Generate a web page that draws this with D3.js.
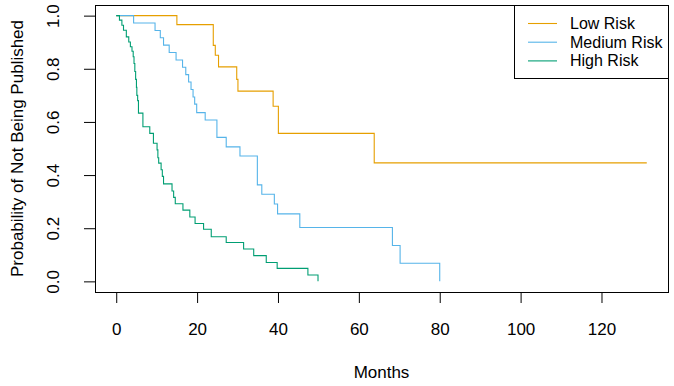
<!DOCTYPE html>
<html>
<head>
<meta charset="utf-8">
<script src="https://cdn.jsdelivr.net/npm/d3@7"></script>
<style>
    body { margin: 0; background: #fff; }
    text { font-family: "Liberation Sans", Arial, sans-serif; fill: #000; }
</style>
</head>
<body>
<div id="chart"></div>
<script>
// Kaplan-Meier curves (time in months, survival after each step)
const lowRiskTime = [0, 15.0, 24.0, 24.5, 25.3, 29.8, 30.1, 38.8, 40.1, 63.8, 131.2]
const lowRiskSurv = [1, 0.966, 0.888, 0.851, 0.807, 0.760, 0.716, 0.659, 0.557, 0.446, 0.446]

const mediumRiskTime = [0, 4.3, 9.6, 10.9, 11.7, 13.1, 14.8, 16.4, 17.2, 17.9, 18.5, 19.0, 19.4, 19.9, 22.0, 24.9, 27.2, 30.6, 34.9, 36.0, 39.1, 39.9, 45.4, 68.3, 70.2, 80.0]
const mediumRiskSurv = [1, 0.972, 0.944, 0.917, 0.889, 0.861, 0.833, 0.806, 0.778, 0.750, 0.722, 0.694, 0.667, 0.635, 0.607, 0.542, 0.506, 0.472, 0.363, 0.328, 0.291, 0.254, 0.203, 0.135, 0.068, 0]

const highRiskTime = [0, 0.8, 1.4, 1.8, 2.5, 3.1, 3.5, 3.9, 4.2, 4.4, 4.6, 4.8, 5.0, 5.1, 5.3, 5.5, 6.6, 8.3, 9.2, 10.1, 10.3, 10.5, 11.1, 11.4, 11.7, 13.8, 14.2, 14.6, 16.5, 18.2, 19.5, 21.6, 23.5, 27.2, 31.5, 34.0, 37.1, 39.8, 47.4, 49.9]
const highRiskSurv = [1, 0.983, 0.964, 0.945, 0.920, 0.901, 0.883, 0.866, 0.845, 0.820, 0.790, 0.760, 0.730, 0.700, 0.680, 0.633, 0.582, 0.557, 0.520, 0.495, 0.465, 0.445, 0.420, 0.395, 0.367, 0.340, 0.316, 0.292, 0.268, 0.242, 0.218, 0.196, 0.168, 0.146, 0.122, 0.097, 0.071, 0.049, 0.024, 0]

const seriesNames = ["Low Risk", "Medium Risk", "High Risk"]
const seriesColors = ["#E69F00", "#56B4E9", "#009E73"]
const xTicks = [0, 20, 40, 60, 80, 100, 120]
const yTicks = [0, 0.2, 0.4, 0.6, 0.8, 1.0]
const xMax = 131.2

const width = 674
const height = 386
const box = { left: 95, right: 668, top: 5, bottom: 292 }

const svg = d3.select("#chart")
    .append("svg")
    .attr("width", width)
    .attr("height", height)

// R style: 4% padding on both ends of each axis
var xScale = d3.scaleLinear()
    .domain([-0.04 * xMax, 1.04 * xMax])
    .range([box.left, box.right])

var yScale = d3.scaleLinear()
    .domain([-0.04, 1.04])
    .range([box.bottom, box.top])

var xAxis = d3.axisBottom(xScale)
    .tickValues(xTicks)
    .tickSize(11)
    .tickSizeOuter(0)
    .tickPadding(20)
    .tickFormat(d3.format("d"))
var gx = svg.append("g")
    .attr("transform", "translate(0," + box.bottom + ")")
    .call(xAxis)
gx.select(".domain").remove()
gx.selectAll("text").attr("font-size", 17).attr("font-family", null)

var yAxis = d3.axisLeft(yScale)
    .tickValues(yTicks)
    .tickSize(11)
    .tickSizeOuter(0)
    .tickFormat(d3.format(".1f"))
var gy = svg.append("g")
    .attr("transform", "translate(" + box.left + ",0)")
    .call(yAxis)
gy.select(".domain").remove()
gy.selectAll(".tick text")
    .attr("font-size", 17)
    .attr("font-family", null)
    .attr("text-anchor", "middle")
    .attr("x", 0)
    .attr("dy", null)
    .attr("transform", "translate(-30,0) rotate(-90)")
    .attr("y", -6)
gx.selectAll(".tick line, .domain").attr("stroke", "#000")
gy.selectAll(".tick line").attr("stroke", "#000")

// curves
const series = [
    { time: lowRiskTime, surv: lowRiskSurv },
    { time: mediumRiskTime, surv: mediumRiskSurv },
    { time: highRiskTime, surv: highRiskSurv }
]
var line = d3.line()
    .x(d => xScale(d[0]))
    .y(d => yScale(d[1]))
    .curve(d3.curveStepAfter)

series.forEach((s, i) => {
    svg.append("path")
        .datum(s.time.map((t, j) => [t, s.surv[j]]))
        .attr("fill", "none")
        .attr("stroke", seriesColors[i])
        .attr("stroke-width", 1.1)
        .attr("d", line)
})

// plot box
svg.append("rect")
    .attr("x", box.left + 0.5)
    .attr("y", box.top + 0.5)
    .attr("width", box.right - box.left)
    .attr("height", box.bottom - box.top)
    .attr("fill", "none")
    .attr("stroke", "#000")

// axis titles
svg.append("text")
    .attr("x", (box.left + box.right) / 2)
    .attr("y", 378)
    .attr("text-anchor", "middle")
    .attr("font-size", 17)
    .text("Months")

svg.append("text")
    .attr("transform", "translate(23," + (box.top + box.bottom) / 2 + ") rotate(-90)")
    .attr("text-anchor", "middle")
    .attr("font-size", 17)
    .text("Probability of Not Being Published")

// legend
var legend = svg.append("g")
legend.append("rect")
    .attr("x", 514.5)
    .attr("y", box.top + 0.5)
    .attr("width", box.right - 514)
    .attr("height", 73)
    .attr("fill", "#fff")
    .attr("stroke", "#000")

seriesNames.forEach((name, i) => {
    var rowY = 23.5 + i * 18.7
    legend.append("line")
        .attr("x1", 528)
        .attr("x2", 557)
        .attr("y1", rowY)
        .attr("y2", rowY)
        .attr("stroke", seriesColors[i])
        .attr("stroke-width", 1.1)
    legend.append("text")
        .attr("x", 570)
        .attr("y", rowY + 5.5)
        .attr("font-size", 16)
        .text(name)
})
</script>
</body>
</html>
